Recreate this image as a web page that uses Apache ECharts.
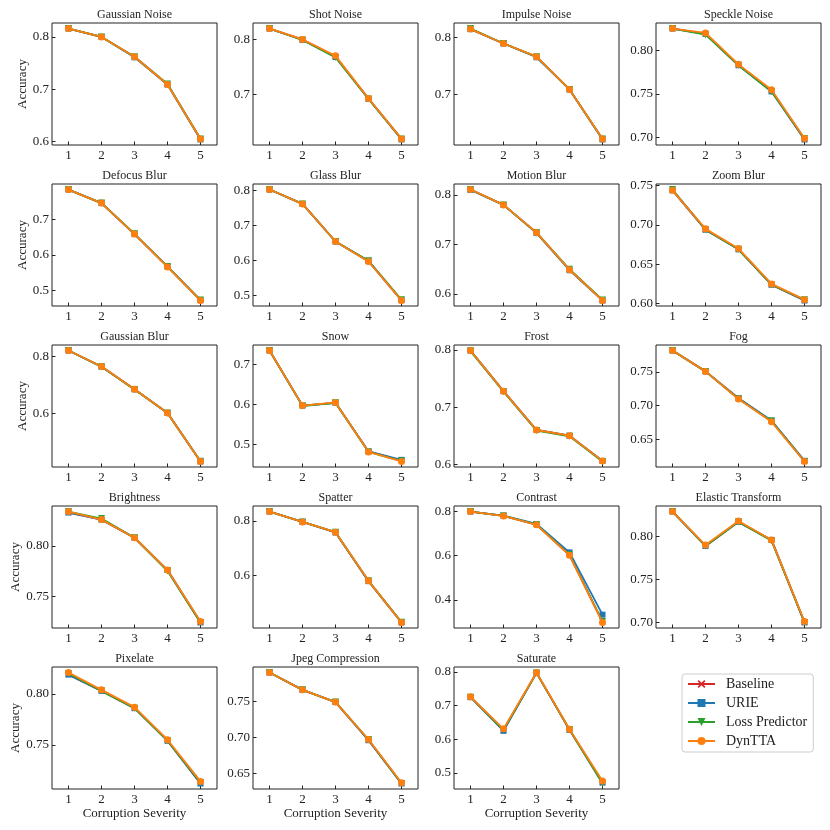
<!DOCTYPE html>
<html>
<head>
<meta charset="utf-8">
<script src="https://cdn.jsdelivr.net/npm/echarts@6/dist/echarts.min.js"></script>
<style>
html,body{margin:0;padding:0;background:#fff;}
#chart{width:830px;height:830px;}
</style>
</head>
<body>
<div id="chart"></div>
<script>
// ---------------- DATA ----------------
const severity = ['1', '2', '3', '4', '5'];
const methods = ['Baseline', 'URIE', 'Loss Predictor', 'DynTTA'];
const titles = ['Gaussian Noise', 'Shot Noise', 'Impulse Noise', 'Speckle Noise',
  'Defocus Blur', 'Glass Blur', 'Motion Blur', 'Zoom Blur',
  'Gaussian Blur', 'Snow', 'Frost', 'Fog',
  'Brightness', 'Spatter', 'Contrast', 'Elastic Transform',
  'Pixelate', 'Jpeg Compression', 'Saturate'];

// rows: Baseline, URIE, Loss Predictor, DynTTA
const gaussianNoise = [
  [0.816, 0.800, 0.762, 0.709, 0.605],
  [0.816, 0.800, 0.761, 0.709, 0.604],
  [0.816, 0.800, 0.762, 0.710, 0.605],
  [0.816, 0.800, 0.762, 0.709, 0.605]];
const shotNoise = [
  [0.820, 0.800, 0.769, 0.692, 0.618],
  [0.820, 0.799, 0.768, 0.691, 0.617],
  [0.820, 0.799, 0.767, 0.691, 0.618],
  [0.820, 0.800, 0.770, 0.692, 0.618]];
const impulseNoise = [
  [0.814, 0.789, 0.766, 0.709, 0.623],
  [0.814, 0.789, 0.765, 0.709, 0.622],
  [0.815, 0.789, 0.766, 0.709, 0.623],
  [0.814, 0.789, 0.766, 0.709, 0.623]];
const speckleNoise = [
  [0.825, 0.819, 0.783, 0.754, 0.698],
  [0.825, 0.819, 0.783, 0.753, 0.698],
  [0.825, 0.818, 0.783, 0.753, 0.699],
  [0.825, 0.820, 0.784, 0.755, 0.699]];
const defocusBlur = [
  [0.783, 0.745, 0.658, 0.567, 0.472],
  [0.783, 0.745, 0.658, 0.567, 0.473],
  [0.783, 0.745, 0.659, 0.567, 0.473],
  [0.783, 0.745, 0.658, 0.566, 0.472]];
const glassBlur = [
  [0.802, 0.761, 0.654, 0.598, 0.486],
  [0.802, 0.761, 0.654, 0.598, 0.487],
  [0.802, 0.761, 0.654, 0.599, 0.488],
  [0.802, 0.761, 0.654, 0.597, 0.486]];
const motionBlur = [
  [0.811, 0.780, 0.724, 0.649, 0.587],
  [0.810, 0.780, 0.723, 0.648, 0.587],
  [0.811, 0.780, 0.724, 0.650, 0.588],
  [0.811, 0.780, 0.724, 0.649, 0.587]];
const zoomBlur = [
  [0.744, 0.694, 0.669, 0.624, 0.604],
  [0.744, 0.694, 0.669, 0.624, 0.604],
  [0.745, 0.694, 0.669, 0.624, 0.605],
  [0.744, 0.695, 0.670, 0.625, 0.605]];
const gaussianBlur = [
  [0.820, 0.764, 0.684, 0.601, 0.431],
  [0.820, 0.763, 0.684, 0.601, 0.431],
  [0.820, 0.763, 0.683, 0.601, 0.432],
  [0.820, 0.764, 0.684, 0.601, 0.431]];
const snow = [
  [0.735, 0.597, 0.604, 0.482, 0.459],
  [0.735, 0.597, 0.604, 0.482, 0.461],
  [0.735, 0.596, 0.604, 0.481, 0.458],
  [0.735, 0.597, 0.605, 0.481, 0.457]];
const frost = [
  [0.799, 0.728, 0.660, 0.650, 0.606],
  [0.799, 0.728, 0.660, 0.650, 0.606],
  [0.798, 0.727, 0.659, 0.649, 0.605],
  [0.799, 0.728, 0.660, 0.650, 0.606]];
const fog = [
  [0.782, 0.751, 0.711, 0.677, 0.618],
  [0.782, 0.751, 0.711, 0.678, 0.618],
  [0.782, 0.751, 0.710, 0.677, 0.617],
  [0.782, 0.751, 0.710, 0.676, 0.617]];
const brightness = [
  [0.833, 0.826, 0.808, 0.776, 0.724],
  [0.833, 0.826, 0.808, 0.776, 0.724],
  [0.834, 0.827, 0.808, 0.775, 0.724],
  [0.834, 0.826, 0.808, 0.776, 0.725]];
const spatter = [
  [0.835, 0.797, 0.758, 0.579, 0.427],
  [0.835, 0.797, 0.758, 0.579, 0.427],
  [0.835, 0.797, 0.759, 0.580, 0.428],
  [0.835, 0.797, 0.759, 0.580, 0.427]];
const contrast = [
  [0.798, 0.778, 0.739, 0.602, 0.300],
  [0.798, 0.780, 0.742, 0.614, 0.333],
  [0.798, 0.778, 0.739, 0.603, 0.302],
  [0.798, 0.778, 0.738, 0.601, 0.298]];
const elasticTransform = [
  [0.829, 0.789, 0.817, 0.796, 0.700],
  [0.829, 0.789, 0.817, 0.796, 0.700],
  [0.829, 0.789, 0.817, 0.795, 0.700],
  [0.829, 0.790, 0.818, 0.796, 0.701]];
const pixelate = [
  [0.819, 0.803, 0.786, 0.754, 0.712],
  [0.819, 0.803, 0.786, 0.754, 0.712],
  [0.820, 0.803, 0.786, 0.754, 0.713],
  [0.821, 0.804, 0.787, 0.755, 0.714]];
const jpegCompression = [
  [0.790, 0.766, 0.749, 0.696, 0.636],
  [0.790, 0.766, 0.749, 0.696, 0.636],
  [0.790, 0.766, 0.749, 0.697, 0.636],
  [0.790, 0.766, 0.749, 0.697, 0.637]];
const saturate = [
  [0.725, 0.627, 0.797, 0.628, 0.471],
  [0.725, 0.625, 0.797, 0.628, 0.472],
  [0.725, 0.628, 0.797, 0.629, 0.469],
  [0.726, 0.631, 0.798, 0.630, 0.476]];

const panels = [gaussianNoise, shotNoise, impulseNoise, speckleNoise,
  defocusBlur, glassBlur, motionBlur, zoomBlur,
  gaussianBlur, snow, frost, fog,
  brightness, spatter, contrast, elasticTransform,
  pixelate, jpegCompression, saturate];

// y tick labels per panel
const yTicks = [
  ['0.6', '0.7', '0.8'], ['0.7', '0.8'], ['0.7', '0.8'], ['0.70', '0.75', '0.80'],
  ['0.5', '0.6', '0.7'], ['0.5', '0.6', '0.7', '0.8'], ['0.6', '0.7', '0.8'], ['0.60', '0.65', '0.70', '0.75'],
  ['0.6', '0.8'], ['0.5', '0.6', '0.7'], ['0.6', '0.7', '0.8'], ['0.65', '0.70', '0.75'],
  ['0.75', '0.80'], ['0.6', '0.8'], ['0.4', '0.6', '0.8'], ['0.70', '0.75', '0.80'],
  ['0.75', '0.80'], ['0.65', '0.70', '0.75'], ['0.5', '0.6', '0.7', '0.8']];

// ---------------- STYLE ----------------
const colors = ['#d62728', '#1f77b4', '#2ca02c', '#ff7f0e'];
const symbols = ['path://M1.5,0L5,3.5L8.5,0L10,1.5L6.5,5L10,8.5L8.5,10L5,6.5L1.5,10L0,8.5L3.5,5L0,1.5Z', 'rect', 'triangle', 'circle'];
const symbolSizes = [6, 6, 7, 7];
const symbolRot = [0, 0, 180, 0];
const FONT = '"Liberation Serif", "Times New Roman", serif';
const INK = '#222';

const colLeft = [52, 253, 454, 656];
const rowTop = [23, 184, 345, 506, 667];
const W = 165, H = 122;

const grids = [], xAxes = [], yAxes = [], series = [], titleArr = [];

panels.forEach((panel, i) => {
  const r = Math.floor(i / 4), c = i % 4;
  const left = colLeft[c], top = rowTop[r];
  grids.push({left: left, top: top, width: W, height: H, show: true,
    borderColor: INK, borderWidth: 1, backgroundColor: 'transparent', containLabel: false});
  titleArr.push({text: titles[i], left: left + W / 2, top: top - 14, textAlign: 'center', padding: 0,
    textStyle: {fontFamily: FONT, fontSize: 12, fontWeight: 'normal', color: INK}});

  let lo = Infinity, hi = -Infinity;
  panel.forEach(s => s.forEach(v => { lo = Math.min(lo, v); hi = Math.max(hi, v); }));
  const pad = (hi - lo) * 0.05;
  const tickStr = yTicks[i];
  const tickVals = tickStr.map(Number);
  const dec = tickStr[0].split('.')[1].length;

  xAxes.push({
    gridIndex: i, type: 'category', data: severity, boundaryGap: true,
    axisLine: {show: false},
    axisTick: {show: true, inside: true, length: 3.5, alignWithLabel: true, lineStyle: {color: INK, width: 1}},
    axisLabel: {fontFamily: FONT, fontSize: 13, color: INK, margin: 4},
    splitLine: {show: false},
    name: r === 4 ? 'Corruption Severity' : '',
    nameLocation: 'middle', nameGap: 18,
    nameTextStyle: {fontFamily: FONT, fontSize: 13, color: INK}
  });
  yAxes.push({
    gridIndex: i, type: 'value', min: lo - pad, max: hi + pad, scale: true,
    axisLine: {show: false},
    axisTick: {show: true, inside: true, length: 3.5, customValues: tickVals, lineStyle: {color: INK, width: 1}},
    axisLabel: {fontFamily: FONT, fontSize: 13, color: INK, margin: 3, customValues: tickVals,
      formatter: v => Number(v).toFixed(dec)},
    splitLine: {show: false},
    name: c === 0 ? 'Accuracy' : '',
    nameLocation: 'middle', nameGap: dec === 1 ? 23 : 30,
    nameTextStyle: {fontFamily: FONT, fontSize: 13, color: INK}
  });
  panel.forEach((vals, k) => {
    series.push({
      name: methods[k], type: 'line', xAxisIndex: i, yAxisIndex: i, data: vals,
      symbol: symbols[k], symbolSize: symbolSizes[k], symbolRotate: symbolRot[k],
      showAllSymbol: true, animation: false, z: 2 + k,
      lineStyle: {color: colors[k], width: 1.8},
      itemStyle: {color: colors[k], borderColor: colors[k], borderWidth: 0, opacity: 1},
      emphasis: {disabled: true}
    });
  });
});

const chart = echarts.init(document.getElementById('chart'), null, {renderer: 'canvas'});
chart.setOption({
  backgroundColor: '#fff',
  animation: false,
  title: titleArr,
  grid: grids,
  xAxis: xAxes,
  yAxis: yAxes,
  legend: {
    data: methods, orient: 'vertical', left: 682, top: 674,
    padding: [3, 6, 4, 5], itemGap: 5, itemWidth: 27, itemHeight: 10,
    borderColor: '#cccccc', borderWidth: 1, borderRadius: 3, backgroundColor: '#fff',
    textStyle: {fontFamily: FONT, fontSize: 14, color: INK, padding: [0, 0, 0, 6], lineHeight: 14}
  },
  series: series
});
</script>
</body>
</html>
